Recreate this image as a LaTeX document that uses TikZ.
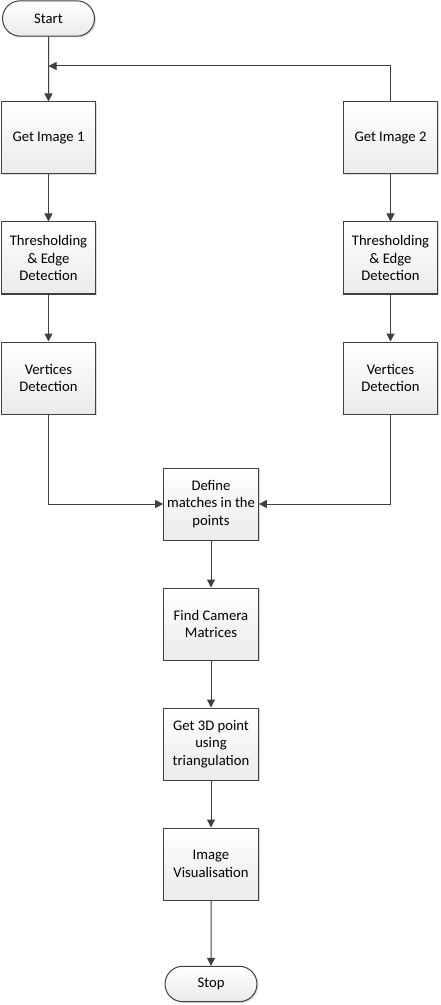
\documentclass[tikz,border=0pt]{standalone}
\usepackage{fontspec}
\setmainfont{Carlito}
\usetikzlibrary{arrows.meta,shapes.misc,shadows}

\tikzset{
  procbox/.style={draw=black!75, line width=0.75pt, rectangle,
    top color=white, bottom color=black!8,
    drop shadow={shadow xshift=1pt, shadow yshift=-1pt, opacity=0.25, fill=black!60},
    minimum width=71pt, minimum height=54pt,
    inner sep=1pt, align=center, font=\fontsize{11}{13}\selectfont},
  termbox/.style={procbox, rounded rectangle, minimum height=26.5pt},
  flow/.style={draw=black!75, line width=0.75pt, -{Triangle[length=6pt,width=6pt]}}
}

\begin{document}
\begin{tikzpicture}[x=0.75pt,y=-0.75pt]
  \useasboundingbox (0,0) rectangle (441,1005);

  % start and left branch
  \node[termbox] (start) at (48.5,18.5) {Start};
  \node[procbox] (img1) at (48.5,138) {Get Image 1};
  \node[procbox] (thr1) at (48.5,258) {Thresholding\\ \& Edge\\ Detection};
  \node[procbox] (vert1) at (48.5,378) {Vertices\\ Detection};

  % right branch
  \node[procbox] (img2) at (390.5,138) {Get Image 2};
  \node[procbox] (thr2) at (390.5,258) {Thresholding\\ \& Edge\\ Detection};
  \node[procbox] (vert2) at (390.5,378) {Vertices\\ Detection};

  % middle column
  \node[procbox] (match) at (211,504) {Define\\ matches in the\\ points};
  \node[procbox] (cam) at (211,624) {Find Camera\\ Matrices};
  \node[procbox] (tri) at (211,744) {Get 3D point\\ using\\ triangulation};
  \node[procbox] (vis) at (211,864) {Image\\ Visualisation};
  \node[termbox] (stop) at (211,984) {Stop};

  \coordinate (join) at (48.5,66);

  \draw[flow] (start) -- (img1);
  \draw[flow] (img2.north) |- (join);
  \draw[flow] (img1) -- (thr1);
  \draw[flow] (thr1) -- (vert1);
  \draw[flow] (img2) -- (thr2);
  \draw[flow] (thr2) -- (vert2);
  \draw[flow] (vert1.south) |- (match.west);
  \draw[flow] (vert2.south) |- (match.east);
  \draw[flow] (match) -- (cam);
  \draw[flow] (cam) -- (tri);
  \draw[flow] (tri) -- (vis);
  \draw[flow] (vis) -- (stop);
\end{tikzpicture}
\end{document}
